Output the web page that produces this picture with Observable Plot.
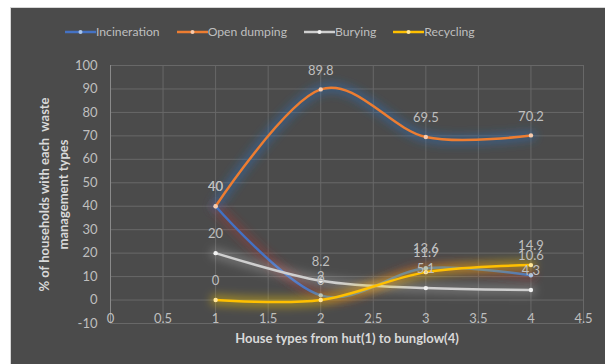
<!DOCTYPE html>
<html>
<head>
<meta charset="utf-8">
<script src="https://cdn.jsdelivr.net/npm/d3@7"></script>
<script src="https://cdn.jsdelivr.net/npm/@observablehq/plot@0.6"></script>
<style>
  html, body { margin: 0; padding: 0; background: #ffffff; }
  #wrap { position: absolute; left: 10px; top: 7px; width: 595px; height: 357px;
          background: #4b4b4b; border-top: 1px solid #d6d6d6; border-left: 1px solid #d6d6d6; box-sizing: border-box; overflow: hidden;
          font-family: Lato, "Open Sans", sans-serif; }
  #legend { height: 44px; box-sizing: border-box; padding-top: 4px; padding-left: 54px; display: flex; gap: 17px; align-items: center; }
  .item { display: flex; align-items: center; color: #bfbfbf; font-size: 12.2px; line-height: 16px; white-space: nowrap; }
  .item svg { display: block; }
</style>
</head>
<body>
<div id="wrap">
  <div id="legend"></div>
  <div id="chart"></div>
</div>
<script>
const houseTypes = [1, 2, 3, 4];
const seriesNames = ["Incineration", "Open dumping", "Burying", "Recycling"];
const incineration = [40, 2, 13.6, 10.6];
const openDumping = [40, 89.8, 69.5, 70.2];
const burying = [20, 8.2, 5.1, 4.3];
const recycling = [0, 0, 11.9, 14.9];
const xTicks = [0, 0.5, 1, 1.5, 2, 2.5, 3, 3.5, 4, 4.5];
const yTicks = [-10, 0, 10, 20, 30, 40, 50, 60, 70, 80, 90, 100];
const xTitle = "House types from hut(1) to bunglow(4)";
const yTitle = "% of households with each  waste\nmanagement types";

const seriesValues = [incineration, openDumping, burying, recycling];
const lineColors = ["#4472c4", "#ed7d31", "#cfcfcf", "#ffc000"];
const markerFills = ["#a9c4eb", "#f8cbad", "#f2f2f2", "#ffe699"];
const glowColors = ["#a8383a", "#2f6fb5", "#eeeeee", "#ffd000"];
const glowOpacity = [0.4, 0.45, 0.22, 0.4];

const series = seriesNames.map((name, i) => ({
  name,
  rows: houseTypes.map((x, j) => ({series: name, x, y: seriesValues[i][j]}))
}));

const legend = document.getElementById("legend");
series.forEach((s, i) => {
  const item = document.createElement("div");
  item.className = "item";
  item.innerHTML = `<svg width="31" height="10"><line x1="0" y1="5" x2="31" y2="5" stroke="${lineColors[i]}" stroke-width="2.5"/><circle cx="15.5" cy="5" r="2" fill="${markerFills[i]}"/></svg><span>${s.name}</span>`;
  legend.appendChild(item);
});

const GLOW_W = 11;
const curve = d3.curveCardinal.tension(0);
const marks = [
  Plot.gridX(xTicks, {stroke: "#686868", strokeOpacity: 1}),
  Plot.gridY(yTicks, {stroke: "#686868", strokeOpacity: 1}),
  Plot.ruleX([0], {stroke: "#8a8a8a"}),
  Plot.axisX(xTicks, {tickSize: 0, tickPadding: -10, fill: "#bfbfbf", fontSize: 13, label: null, tickFormat: d => String(d)}),
  Plot.axisY(yTicks, {tickSize: 0, tickPadding: 13, fill: "#bfbfbf", fontSize: 13, label: null, tickFormat: d => String(d)}),
];
series.forEach((s, i) => {
  marks.push(Plot.line(s.rows, {x: "x", y: "y", curve, stroke: glowColors[i], strokeWidth: GLOW_W, strokeOpacity: glowOpacity[i]}));
  marks.push(Plot.line(s.rows, {x: "x", y: "y", curve, stroke: lineColors[i], strokeWidth: 2.5}));
  marks.push(Plot.dot(s.rows, {x: "x", y: "y", r: 2.2, fill: markerFills[i], stroke: "none"}));
});
series.forEach((s, i) => {
  marks.push(Plot.text(s.rows, {x: "x", y: "y", text: d => String(d.y), dy: -19, fill: "#bfbfbf", fontSize: 13}));
});
marks.push(Plot.text([xTitle], {text: d => d, frameAnchor: "bottom", lineAnchor: "middle", dy: 15, fill: "#d9d9d9", fontWeight: "bold", fontSize: 13}));
marks.push(Plot.text([yTitle], {text: d => d, frameAnchor: "left", textAnchor: "middle", lineAnchor: "middle", rotate: -90, dx: -58, lineHeight: 1.5, fill: "#d9d9d9", fontWeight: "bold", fontSize: 13}));

const plot = Plot.plot({
  width: 594, height: 312, marginLeft: 99, marginRight: 22, marginTop: 13, marginBottom: 41,
  style: {background: "transparent", color: "#bfbfbf", fontFamily: "Lato, 'Open Sans', sans-serif", fontSize: "13px"},
  x: {domain: [0, 4.5], axis: null},
  y: {domain: [-10, 100], axis: null},
  marks
});

const ns = "http://www.w3.org/2000/svg";
const defs = document.createElementNS(ns, "defs");
const filter = document.createElementNS(ns, "filter");
filter.setAttribute("id", "glowblur");
filter.setAttribute("filterUnits", "userSpaceOnUse");
filter.setAttribute("x", "0"); filter.setAttribute("y", "0");
filter.setAttribute("width", "594"); filter.setAttribute("height", "312");
const blur = document.createElementNS(ns, "feGaussianBlur");
blur.setAttribute("stdDeviation", "4");
filter.appendChild(blur);
defs.appendChild(filter);
plot.insertBefore(defs, plot.firstChild);
plot.querySelectorAll(`[stroke-width="${GLOW_W}"]`).forEach(g => g.setAttribute("filter", "url(#glowblur)"));

document.getElementById("chart").appendChild(plot);
</script>
</body>
</html>
